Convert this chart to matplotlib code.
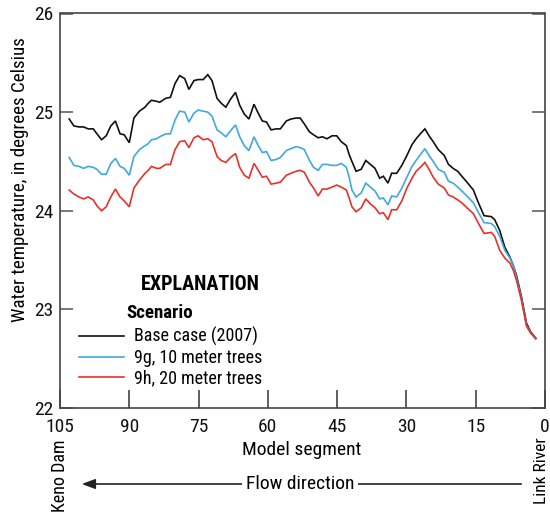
import matplotlib
matplotlib.use("Agg")
import matplotlib.pyplot as plt
from matplotlib import font_manager

# Model segment (Keno Dam = 105, Link River = 0)
segment = [
    103.0, 102.0, 100.9, 99.9, 98.9, 97.8, 97.0, 96.0, 95.0, 94.0,
    93.0, 92.0, 91.1, 90.0, 89.0, 87.8, 86.6, 85.9, 85.2, 84.1,
    83.4, 82.1, 81.1, 80.1, 79.1, 78.0, 77.1, 76.0, 75.1, 74.0,
    73.0, 72.1, 71.0, 70.1, 69.1, 68.1, 67.0, 66.1, 65.1, 64.1,
    63.0, 62.2, 61.2, 60.3, 59.3, 58.2, 57.3, 56.0, 55.0, 53.9,
    53.0, 52.1, 51.0, 50.1, 49.1, 48.2, 47.2, 46.1, 45.1, 44.1,
    43.0, 42.4, 41.8, 40.9, 39.8, 38.8, 37.8, 36.8, 35.8, 35.0,
    34.0, 33.2, 32.1, 31.0, 29.9, 28.8, 27.9, 26.8, 26.0, 25.1,
    24.2, 23.1, 21.8, 20.9, 19.9, 18.9, 18.0, 16.9, 15.5, 14.5,
    13.2, 11.6, 10.9, 9.8, 8.7, 7.6, 6.9, 6.2, 5.1, 4.0,
    3.1, 2.0,
]

# Water temperature, degrees Celsius
base_case = [
    24.93, 24.86, 24.85, 24.85, 24.83, 24.83, 24.78, 24.72, 24.76, 24.86,
    24.91, 24.78, 24.77, 24.69, 24.94, 25.01, 25.05, 25.09, 25.12, 25.11,
    25.10, 25.14, 25.15, 25.29, 25.37, 25.34, 25.23, 25.32, 25.33, 25.33,
    25.38, 25.32, 25.14, 25.09, 25.05, 25.13, 25.20, 25.07, 24.98, 24.93,
    25.08, 25.00, 24.91, 24.90, 24.82, 24.83, 24.83, 24.91, 24.93, 24.94,
    24.94, 24.88, 24.80, 24.77, 24.74, 24.75, 24.73, 24.76, 24.76, 24.70,
    24.66, 24.57, 24.50, 24.40, 24.42, 24.51, 24.47, 24.43, 24.33, 24.35,
    24.28, 24.38, 24.38, 24.46, 24.56, 24.67, 24.73, 24.79, 24.83, 24.76,
    24.70, 24.62, 24.56, 24.47, 24.43, 24.40, 24.35, 24.29, 24.21, 24.09,
    23.95, 23.94, 23.91, 23.80, 23.63, 23.53, 23.45, 23.35, 23.13, 22.86,
    22.77, 22.71,
]
trees_10m = [
    24.54, 24.46, 24.45, 24.43, 24.45, 24.44, 24.42, 24.37, 24.37, 24.48,
    24.53, 24.45, 24.43, 24.36, 24.55, 24.62, 24.66, 24.68, 24.72, 24.73,
    24.75, 24.78, 24.78, 24.92, 25.01, 25.00, 24.90, 24.99, 25.02, 25.01,
    25.00, 24.96, 24.82, 24.79, 24.75, 24.81, 24.87, 24.75, 24.66, 24.61,
    24.75, 24.67, 24.59, 24.60, 24.51, 24.52, 24.54, 24.61, 24.63, 24.65,
    24.64, 24.62, 24.51, 24.44, 24.41, 24.47, 24.47, 24.46, 24.46, 24.48,
    24.44, 24.34, 24.21, 24.14, 24.18, 24.28, 24.24, 24.20, 24.12, 24.13,
    24.06, 24.15, 24.14, 24.23, 24.34, 24.45, 24.51, 24.58, 24.63, 24.56,
    24.50, 24.42, 24.39, 24.30, 24.28, 24.24, 24.20, 24.15, 24.08, 23.99,
    23.88, 23.87, 23.84, 23.74, 23.60, 23.52, 23.45, 23.33, 23.11, 22.84,
    22.76, 22.71,
]
trees_20m = [
    24.21, 24.17, 24.14, 24.12, 24.14, 24.11, 24.05, 24.00, 24.04, 24.14,
    24.22, 24.14, 24.10, 24.04, 24.23, 24.31, 24.38, 24.41, 24.45, 24.43,
    24.43, 24.47, 24.47, 24.62, 24.70, 24.71, 24.64, 24.74, 24.76, 24.72,
    24.73, 24.70, 24.55, 24.51, 24.49, 24.54, 24.58, 24.44, 24.36, 24.33,
    24.48, 24.42, 24.34, 24.35, 24.27, 24.28, 24.29, 24.36, 24.38, 24.40,
    24.41, 24.39, 24.29, 24.23, 24.15, 24.22, 24.22, 24.24, 24.26, 24.24,
    24.21, 24.13, 24.04, 23.99, 24.03, 24.12, 24.07, 24.03, 23.97, 23.98,
    23.91, 24.01, 24.01, 24.10, 24.23, 24.33, 24.40, 24.45, 24.49, 24.42,
    24.34, 24.27, 24.23, 24.16, 24.14, 24.11, 24.08, 24.03, 23.97, 23.88,
    23.77, 23.78, 23.74, 23.60, 23.52, 23.47, 23.40, 23.30, 23.09, 22.83,
    22.76, 22.70,
]

scenario_labels = ["Base case (2007)", "9g, 10 meter trees", "9h, 20 meter trees"]
scenario_colors = ["#111111", "#3fa9e0", "#e8312b"]
x_ticks = [105, 90, 75, 60, 45, 30, 15, 0]
y_ticks = [22, 23, 24, 25, 26]

# narrow sans font if the system has one
installed = {f.name for f in font_manager.fontManager.ttflist}
for name in ["Liberation Sans Narrow", "DejaVu Sans Condensed", "Roboto Condensed",
             "Liberation Sans"]:
    if name in installed:
        plt.rcParams["font.family"] = [name, "DejaVu Sans"]
        break

W, H = 550, 516


def fpos(x, y):
    """pixel position -> figure fraction"""
    return x / W, 1 - y / H


fig = plt.figure(figsize=(W / 100, H / 100), dpi=100)
ax_left, ax_right, ax_top, ax_bottom = 60, 545, 13.5, 408
ax = fig.add_axes([ax_left / W, 1 - ax_bottom / H,
                   (ax_right - ax_left) / W, (ax_bottom - ax_top) / H])

for values, label, color in zip([base_case, trees_10m, trees_20m],
                                scenario_labels, scenario_colors):
    ax.plot(segment, values, color=color, lw=1.2, label=label,
            solid_joinstyle="miter")

ax.set_xlim(105, 0)
ax.set_ylim(22, 26)
ax.set_xticks(x_ticks)
ax.set_yticks(y_ticks)
ax.tick_params(axis="x", direction="in", length=13, width=1.1, pad=7,
               labelsize=14, colors="#333333", labelcolor="#111111")
ax.tick_params(axis="y", direction="in", length=9.5, width=1.1, pad=5,
               labelsize=14, right=True, colors="#555555", labelcolor="#111111")
for spine in ax.spines.values():
    spine.set_linewidth(1.2)
    spine.set_color("#444444")

fig.text(*fpos(20, 180), "Water temperature, in degrees Celsius", rotation=90,
         ha="center", va="center", fontsize=13.7)
fig.text(*fpos(302, 450), "Model segment", ha="center", va="center", fontsize=14)

# flow direction arrow beneath the axis
fig.patches.append(matplotlib.patches.FancyArrowPatch(
    fpos(524, 484), fpos(79, 484), transform=fig.transFigure,
    arrowstyle="-|>,head_length=8,head_width=3", mutation_scale=1,
    color="#222222", lw=1.2))
fig.text(*fpos(300, 484), "Flow direction", ha="center", va="center",
         fontsize=14, bbox=dict(facecolor="white", edgecolor="none", pad=3))
fig.text(*fpos(60, 440), "Keno Dam", rotation=90, ha="center", va="top",
         fontsize=13)
fig.text(*fpos(542, 437), "Link River", rotation=90, ha="center", va="top",
         fontsize=12.5)

# explanation block
fig.text(*fpos(200, 285), "EXPLANATION", ha="center", va="center",
         fontsize=14.5, fontweight="bold")
fig.text(*fpos(126, 313), "Scenario", ha="left", va="center",
         fontsize=13.6, fontweight="bold")
ax.legend(loc="upper left", bbox_to_anchor=fpos(79, 327),
          bbox_transform=fig.transFigure, frameon=False, fontsize=13,
          handlelength=2.5, handletextpad=0.55, labelspacing=0.15,
          borderpad=0, borderaxespad=0)

fig.savefig("out.png", dpi=100)
